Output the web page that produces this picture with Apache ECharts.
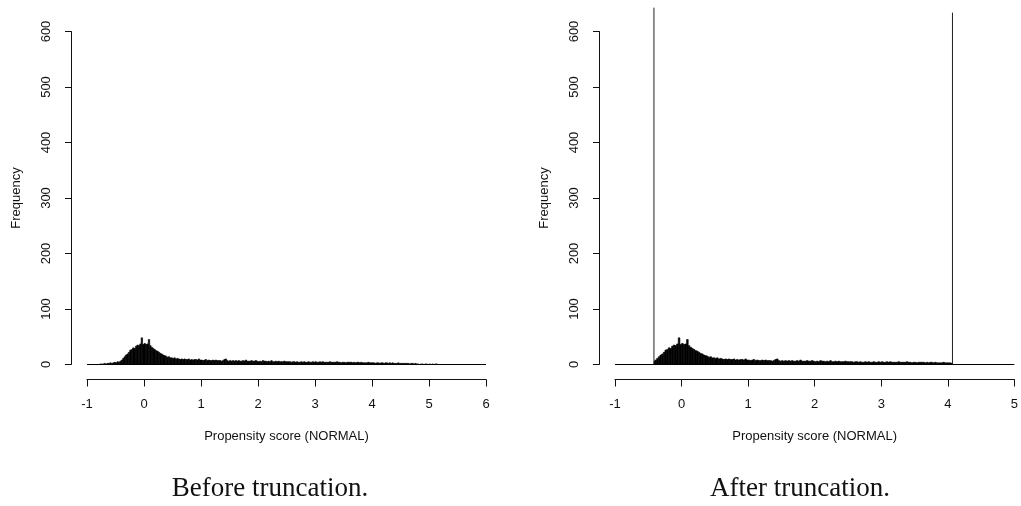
<!DOCTYPE html>
<html>
<head>
<meta charset="utf-8">
<script src="https://cdn.jsdelivr.net/npm/echarts@6/dist/echarts.min.js"></script>
<style>
html,body{margin:0;padding:0;background:#fff;}
#chart{width:1021px;height:506px;}
</style>
</head>
<body>
<div id="chart"></div>
<script>
// Histogram bins (shared by both panels)
var binStart = -0.8;
var binWidth = 0.025;
var counts = [
  0,1,1,1,  2,1,2,2,  3,2,3,4,  3,5,4,6,  8,11,14,17,
  19,22,26,27,  30,29,33,35,  34,37,48,36,  38,36,37,45,  34,31,29,27,
  25,24,22,20,  19,17,16,15,  13,14,12,12,  11,12,10,11,  10,9,10,9,
  10,9,9,10,  8,9,8,9,  9,8,10,8,  8,7,8,9,  7,8,7,7,
  8,7,8,7,  7,7,6,7,  9,10,7,6,  7,6,7,6,  7,6,7,6,
  6,7,6,8,  6,6,6,7,  6,6,7,6,  5,6,5,7,  6,6,5,6,
  5,7,5,5,  6,5,6,5,  5,5,6,5,  5,5,5,4,  5,5,4,5,
  4,4,5,4,  5,4,4,5,  4,4,5,4,  5,4,4,5,  4,5,4,4,
  4,4,5,4,  4,4,4,5,  4,4,3,4,  4,3,4,4,  4,4,3,4,
  3,4,4,3,  4,3,3,3,  3,4,3,3,  3,3,2,3,  3,2,3,3,
  2,3,3,2,  3,2,3,2,  2,2,3,2,  2,2,2,2,  2,2,1,2,
  2,1,2,1,  1,0,1,1,  0,1,1,0,  1,0,1,0,  1,1,0,0
];
// Axis settings
var leftXTicks = [-1, 6];      // min, max of x axis (before)
var rightXTicks = [-1, 5];     // min, max of x axis (after)
var yTicks = [0, 600, 100];    // min, max, step
// Truncation bounds and heights of the drawn limit lines
var truncBounds = [-0.415, 4.07];
var truncLineTop = [643, 634];
var xTitle = 'Propensity score (NORMAL)';
var yTitle = 'Frequency';
var captions = ['Before truncation.', 'After truncation.'];

function bins(lo, hi) {
  var out = [];
  for (var i = 0; i < counts.length; i++) {
    var x0 = binStart + i * binWidth, x1 = x0 + binWidth;
    if (lo !== undefined) { x0 = Math.max(x0, lo); x1 = Math.min(x1, hi); }
    if (x1 <= x0 || counts[i] <= 0) continue;
    out.push([x0, x1, counts[i]]);
  }
  return out;
}

function renderBar(params, api) {
  var p0 = api.coord([api.value(0), 0]);
  var p1 = api.coord([api.value(1), api.value(2)]);
  return {
    type: 'rect',
    shape: { x: p0[0], y: p1[1], width: Math.max(p1[0] - p0[0], 0.5), height: p0[1] - p1[1] },
    style: { fill: '#000', stroke: '#000', lineWidth: 0.6 }
  };
}

var FONT = 'Liberation Sans, Arial, sans-serif';
var axisColor = '#111';

function makeX(idx, rng) {
  return {
    type: 'value', gridIndex: idx, min: rng[0], max: rng[1], interval: 1,
    position: 'bottom', offset: 15,
    axisLine: { show: true, onZero: false, lineStyle: { color: axisColor, width: 1 } },
    axisTick: { show: true, length: 7, lineStyle: { color: axisColor } },
    axisLabel: { show: true, margin: 18, color: '#111', fontSize: 13, fontFamily: FONT, showMinLabel: true, showMaxLabel: true },
    splitLine: { show: false },
    name: xTitle, nameLocation: 'middle', nameGap: 50,
    nameTextStyle: { color: '#111', fontSize: 13, fontFamily: FONT }
  };
}
function makeY(idx) {
  return {
    type: 'value', gridIndex: idx, min: yTicks[0], max: yTicks[1], interval: yTicks[2],
    position: 'left', offset: 16,
    axisLine: { show: true, onZero: false, lineStyle: { color: axisColor, width: 1 } },
    axisTick: { show: true, length: 6, lineStyle: { color: axisColor } },
    axisLabel: { show: true, rotate: 90, margin: 18, color: '#111', fontSize: 13, fontFamily: FONT },
    splitLine: { show: false },
    name: yTitle, nameLocation: 'middle', nameGap: 48, nameRotate: 90,
    nameTextStyle: { color: '#111', fontSize: 13, fontFamily: FONT }
  };
}

var chart = echarts.init(document.getElementById('chart'), null, { renderer: 'canvas' });
var capStyle = { fontFamily: 'Liberation Serif, Times New Roman, serif', fontWeight: 'normal', fontSize: 27, color: '#111' };
var option = {
  animation: false,
  backgroundColor: '#fff',
  title: [
    { text: captions[0], left: 270, top: 475, textAlign: 'center', padding: 0, textStyle: capStyle },
    { text: captions[1], left: 800, top: 475, textAlign: 'center', padding: 0, textStyle: capStyle }
  ],
  grid: [
    { left: 87, top: 31.5, width: 399, height: 333 },
    { left: 615, top: 31.5, width: 400, height: 333 }
  ],
  xAxis: [makeX(0, leftXTicks), makeX(1, rightXTicks)],
  yAxis: [makeY(0), makeY(1)],
  series: [
    { type: 'line', xAxisIndex: 0, yAxisIndex: 0, data: [[leftXTicks[0], 0], [leftXTicks[1], 0]],
      symbol: 'none', lineStyle: { color: '#000', width: 1 }, silent: true, z: 1 },
    { type: 'custom', xAxisIndex: 0, yAxisIndex: 0, data: bins(), renderItem: renderBar,
      encode: { x: [0, 1], y: 2 }, z: 2 },
    { type: 'line', xAxisIndex: 1, yAxisIndex: 1, data: [[rightXTicks[0], 0], [rightXTicks[1], 0]],
      symbol: 'none', lineStyle: { color: '#000', width: 1 }, silent: true, z: 1 },
    { type: 'custom', xAxisIndex: 1, yAxisIndex: 1, data: bins(truncBounds[0], truncBounds[1]), renderItem: renderBar,
      encode: { x: [0, 1], y: 2 }, z: 2 },
    { type: 'line', xAxisIndex: 1, yAxisIndex: 1, data: [[truncBounds[0], 0], [truncBounds[0], truncLineTop[0]]],
      symbol: 'none', clip: false, lineStyle: { color: '#222', width: 1 }, silent: true, z: 3 },
    { type: 'line', xAxisIndex: 1, yAxisIndex: 1, data: [[truncBounds[1], 0], [truncBounds[1], truncLineTop[1]]],
      symbol: 'none', clip: false, lineStyle: { color: '#222', width: 1 }, silent: true, z: 3 }
  ]
};
chart.setOption(option);
</script>
</body>
</html>
